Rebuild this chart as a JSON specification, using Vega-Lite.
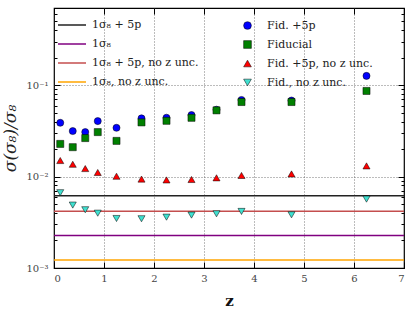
{
  "$schema": "https://vega.github.io/schema/vega-lite/v6.json",
  "width": 350,
  "height": 260,
  "autosize": "none",
  "padding": {"left": 54, "top": 8, "right": 11, "bottom": 44},
  "background": "white",
  "config": {
    "view": {"stroke": "black", "strokeWidth": 1.2},
    "font": "DejaVu Serif",
    "axis": {"labelFont": "DejaVu Serif", "titleFont": "DejaVu Serif", "labelColor": "#444", "domain": false, "tickColor": "black", "tickWidth": 1, "gridColor": "#555", "gridDash": [1, 2], "gridWidth": 0.8}
  },
  "resolve": {"axis": {"x": "independent", "y": "independent"}},
  "datasets": {
    "lines": [
      {"series": "1σ₈ + 5p", "val": 0.00618},
      {"series": "1σ₈", "val": 0.00227},
      {"series": "1σ₈ + 5p, no z unc.", "val": 0.00417},
      {"series": "1σ₈, no z unc.", "val": 0.00122}
    ],
    "points": [
      {"series": "Fid. +5p", "z": 0.125, "val": 0.0388},
      {"series": "Fid. +5p", "z": 0.375, "val": 0.0315},
      {"series": "Fid. +5p", "z": 0.625, "val": 0.0307},
      {"series": "Fid. +5p", "z": 0.875, "val": 0.0405},
      {"series": "Fid. +5p", "z": 1.25, "val": 0.0342},
      {"series": "Fid. +5p", "z": 1.75, "val": 0.0434},
      {"series": "Fid. +5p", "z": 2.25, "val": 0.0441},
      {"series": "Fid. +5p", "z": 2.75, "val": 0.0472},
      {"series": "Fid. +5p", "z": 3.25, "val": 0.054},
      {"series": "Fid. +5p", "z": 3.75, "val": 0.069},
      {"series": "Fid. +5p", "z": 4.75, "val": 0.068},
      {"series": "Fid. +5p", "z": 6.25, "val": 0.1265},
      {"series": "Fiducial", "z": 0.125, "val": 0.0228},
      {"series": "Fiducial", "z": 0.375, "val": 0.021},
      {"series": "Fiducial", "z": 0.625, "val": 0.0264},
      {"series": "Fiducial", "z": 0.875, "val": 0.0307},
      {"series": "Fiducial", "z": 1.25, "val": 0.0246},
      {"series": "Fiducial", "z": 1.75, "val": 0.0392},
      {"series": "Fiducial", "z": 2.25, "val": 0.0408},
      {"series": "Fiducial", "z": 2.75, "val": 0.044},
      {"series": "Fiducial", "z": 3.25, "val": 0.0531},
      {"series": "Fiducial", "z": 3.75, "val": 0.0655},
      {"series": "Fiducial", "z": 4.75, "val": 0.0655},
      {"series": "Fiducial", "z": 6.25, "val": 0.0866},
      {"series": "Fid. +5p, no z unc.", "z": 0.125, "val": 0.015},
      {"series": "Fid. +5p, no z unc.", "z": 0.375, "val": 0.01365},
      {"series": "Fid. +5p, no z unc.", "z": 0.625, "val": 0.01225},
      {"series": "Fid. +5p, no z unc.", "z": 0.875, "val": 0.0111},
      {"series": "Fid. +5p, no z unc.", "z": 1.25, "val": 0.0101},
      {"series": "Fid. +5p, no z unc.", "z": 1.75, "val": 0.0094},
      {"series": "Fid. +5p, no z unc.", "z": 2.25, "val": 0.0092},
      {"series": "Fid. +5p, no z unc.", "z": 2.75, "val": 0.0093},
      {"series": "Fid. +5p, no z unc.", "z": 3.25, "val": 0.0097},
      {"series": "Fid. +5p, no z unc.", "z": 3.75, "val": 0.0103},
      {"series": "Fid. +5p, no z unc.", "z": 4.75, "val": 0.0107},
      {"series": "Fid. +5p, no z unc.", "z": 6.25, "val": 0.0131},
      {"series": "Fid., no z unc.", "z": 0.125, "val": 0.00667},
      {"series": "Fid., no z unc.", "z": 0.375, "val": 0.00488},
      {"series": "Fid., no z unc.", "z": 0.625, "val": 0.00434},
      {"series": "Fid., no z unc.", "z": 0.875, "val": 0.00398},
      {"series": "Fid., no z unc.", "z": 1.25, "val": 0.00348},
      {"series": "Fid., no z unc.", "z": 1.75, "val": 0.00346},
      {"series": "Fid., no z unc.", "z": 2.25, "val": 0.0036},
      {"series": "Fid., no z unc.", "z": 2.75, "val": 0.00379},
      {"series": "Fid., no z unc.", "z": 3.25, "val": 0.00392},
      {"series": "Fid., no z unc.", "z": 3.75, "val": 0.00416},
      {"series": "Fid., no z unc.", "z": 4.75, "val": 0.00382},
      {"series": "Fid., no z unc.", "z": 6.25, "val": 0.00567}
    ]
  },
  "layer": [
    {
      "data": {"name": "lines"},
      "mark": {"type": "rule", "strokeWidth": 1.5},
      "encoding": {
        "y": {
          "field": "val", "type": "quantitative",
          "scale": {"type": "log", "domain": [0.001, 0.7], "nice": false},
          "axis": {
            "orient": "left",
            "title": "σ(σ₈)/σ₈",
            "titleFontSize": 17,
            "titleFontWeight": "normal",
            "titleFontStyle": "italic",
            "titleColor": "#222",
            "titlePadding": 6,
            "values": [0.001, 0.002, 0.003, 0.004, 0.005, 0.006, 0.007, 0.008, 0.009, 0.01, 0.02, 0.03, 0.04, 0.05, 0.06, 0.07, 0.08, 0.09, 0.1, 0.2, 0.3, 0.4, 0.5, 0.6, 0.7],
            "labelExpr": "datum.value == 0.001 ? '10⁻³' : datum.value == 0.01 ? '10⁻²' : datum.value == 0.1 ? '10⁻¹' : ''",
            "labelFontSize": 10,
            "labelPadding": 12,
            "tickSize": {"condition": {"test": "datum.value == 0.001 || datum.value == 0.01 || datum.value == 0.1", "value": -6}, "value": -3},
            "grid": true,
            "gridOpacity": {"condition": {"test": "datum.value == 0.01 || datum.value == 0.1", "value": 1}, "value": 0}
          }
        },
        "stroke": {
          "field": "series", "type": "nominal",
          "scale": {"domain": ["1σ₈ + 5p", "1σ₈", "1σ₈ + 5p, no z unc.", "1σ₈, no z unc."], "range": ["#222222", "#800080", "#c44e4e", "#ffa500"]},
          "legend": {
            "title": null,
            "orient": "none",
            "legendX": 10,
            "legendY": 9,
            "symbolType": "M-2,0H2",
            "symbolSize": 196,
            "symbolStrokeWidth": 1.5,
            "labelFont": "DejaVu Serif",
            "labelFontSize": 11,
            "labelColor": "#222",
            "labelOffset": 12,
            "rowPadding": 6,
            "padding": 0
          }
        }
      }
    },
    {
      "data": {"name": "points"},
      "mark": {"type": "point", "filled": true, "stroke": "black", "strokeWidth": 0.5, "size": 50, "opacity": 1},
      "encoding": {
        "x": {
          "field": "z", "type": "quantitative",
          "scale": {"domain": [0, 7], "nice": false},
          "axis": {
            "orient": "bottom",
            "title": "z",
            "titleFontSize": 15,
            "titleFontWeight": "bold",
            "titleColor": "#111",
            "titlePadding": 10,
            "values": [0, 1, 2, 3, 4, 5, 6, 7],
            "labelFontSize": 10,
            "labelPadding": 11,
            "tickSize": -6,
            "grid": true,
            "gridOpacity": {"condition": {"test": "datum.value == 0 || datum.value == 7", "value": 0}, "value": 1}
          }
        },
        "y": {
          "field": "val", "type": "quantitative",
          "axis": {
            "orient": "right",
            "title": null,
            "labels": false,
            "grid": false,
            "values": [0.001, 0.002, 0.003, 0.004, 0.005, 0.006, 0.007, 0.008, 0.009, 0.01, 0.02, 0.03, 0.04, 0.05, 0.06, 0.07, 0.08, 0.09, 0.1, 0.2, 0.3, 0.4, 0.5, 0.6, 0.7],
            "tickSize": {"condition": {"test": "datum.value == 0.001 || datum.value == 0.01 || datum.value == 0.1", "value": -6}, "value": -3}
          }
        },
        "fill": {
          "field": "series", "type": "nominal",
          "scale": {"domain": ["Fid. +5p", "Fiducial", "Fid. +5p, no z unc.", "Fid., no z unc."], "range": ["#0000ff", "#008000", "#ff0000", "#40e0d0"]},
          "legend": {
            "title": null,
            "orient": "none",
            "legendX": 188,
            "legendY": 12,
            "symbolStrokeColor": "black",
            "symbolStrokeWidth": 0.5,
            "symbolSize": 60,
            "labelFont": "DejaVu Serif",
            "labelFontSize": 11,
            "labelColor": "#222",
            "labelOffset": 14,
            "rowPadding": 7,
            "padding": 0
          }
        },
        "shape": {
          "field": "series", "type": "nominal",
          "scale": {"domain": ["Fid. +5p", "Fiducial", "Fid. +5p, no z unc.", "Fid., no z unc."], "range": ["circle", "square", "triangle-up", "triangle-down"]}
        }
      }
    },
    {
      "data": {"name": "points"},
      "mark": {"type": "point", "opacity": 0},
      "encoding": {
        "x": {
          "field": "z", "type": "quantitative",
          "axis": {
            "orient": "top",
            "title": null,
            "labels": false,
            "grid": false,
            "values": [0, 1, 2, 3, 4, 5, 6, 7],
            "tickSize": -6
          }
        },
        "y": {"field": "val", "type": "quantitative", "axis": null}
      }
    }
  ]
}
